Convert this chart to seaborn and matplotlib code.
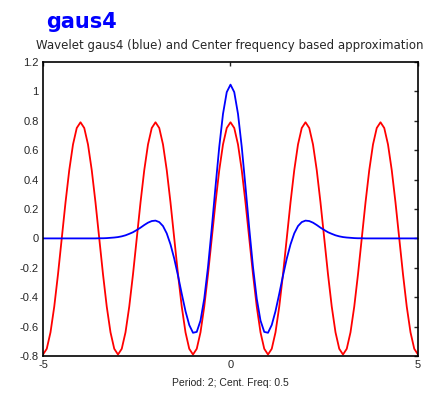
import matplotlib
matplotlib.use("Agg")
import matplotlib.pyplot as plt
import seaborn as sns
import pandas as pd

# sample positions (step 0.1, -5 .. 5)
x_pos = [0.0, 0.1, 0.2, 0.3, 0.4, 0.5, 0.6, 0.7, 0.8, 0.9,
         1.0, 1.1, 1.2, 1.3, 1.4, 1.5, 1.6, 1.7, 1.8, 1.9,
         2.0, 2.1, 2.2, 2.3, 2.4, 2.5, 2.6, 2.7, 2.8, 2.9,
         3.0, 3.1, 3.2, 3.3, 3.4, 3.5, 3.6, 3.7, 3.8, 3.9,
         4.0, 4.1, 4.2, 4.3, 4.4, 4.5, 4.6, 4.7, 4.8, 4.9, 5.0]

# blue wavelet, right half (the curve is symmetric about 0)
wavelet_half = [1.046, 0.995, 0.847, 0.622, 0.351, 0.068, -0.195, -0.410, -0.559, -0.636,
                -0.642, -0.589, -0.495, -0.377, -0.253, -0.138, -0.041, 0.034, 0.084, 0.111,
                0.121, 0.118, 0.107, 0.091, 0.073, 0.057, 0.042, 0.031, 0.021, 0.014,
                0.009, 0.006, 0.004, 0.002, 0.001, 0.001, 0.0, 0.0, 0.0, 0.0,
                0.0, 0.0, 0.0, 0.0, 0.0, 0.0, 0.0, 0.0, 0.0, 0.0, 0.0]

# red centre-frequency approximation, right half
approx_half = [0.790, 0.751, 0.639, 0.464, 0.244, 0.0, -0.244, -0.464, -0.639, -0.751,
               -0.790, -0.751, -0.639, -0.464, -0.244, 0.0, 0.244, 0.464, 0.639, 0.751,
               0.790, 0.751, 0.639, 0.464, 0.244, 0.0, -0.244, -0.464, -0.639, -0.751,
               -0.790, -0.751, -0.639, -0.464, -0.244, 0.0, 0.244, 0.464, 0.639, 0.751,
               0.790, 0.751, 0.639, 0.464, 0.244, 0.0, -0.244, -0.464, -0.639, -0.751, -0.790]

x_full = [-v for v in x_pos[:0:-1]] + x_pos
wavelet = wavelet_half[:0:-1] + wavelet_half
approx = approx_half[:0:-1] + approx_half

y_ticks = [-0.8, -0.6, -0.4, -0.2, 0, 0.2, 0.4, 0.6, 0.8, 1, 1.2]
y_tick_labels = ["-0.8", "-0.6", "-0.4", "-0.2", "0", "0.2", "0.4", "0.6", "0.8", "1", "1.2"]
x_ticks = [-5, 0, 5]

df = pd.DataFrame({"x": x_full, "wavelet": wavelet, "approx": approx})

sns.set_style("white")
plt.rcParams["font.family"] = ["Liberation Sans", "DejaVu Sans"]

fig = plt.figure(figsize=(4.31, 3.96), dpi=100)
ax = fig.add_axes([43 / 431, 1 - 356 / 396, 375 / 431, 294 / 396])

sns.lineplot(data=df, x="x", y="approx", color="#ff0000", linewidth=1.3, ax=ax)
sns.lineplot(data=df, x="x", y="wavelet", color="#0000ff", linewidth=1.3, ax=ax)

ax.set_xlim(-5, 5)
ax.set_ylim(-0.8, 1.2)
ax.set_xticks(x_ticks)
ax.set_xticklabels([str(t) for t in x_ticks], fontsize=8)
ax.set_yticks(y_ticks)
ax.set_yticklabels(y_tick_labels, fontsize=8)
ax.tick_params(direction="in", top=True, right=True, length=3, width=1, pad=3)
for s in ax.spines.values():
    s.set_color("black")
    s.set_linewidth(1.2)

ax.set_xlabel("Period: 2; Cent. Freq: 0.5", fontsize=7.5, labelpad=6)
ax.set_ylabel("")

fig.text(230 / 431, 1 - 45 / 396,
         "Wavelet gaus4 (blue) and Center frequency based approximation",
         fontsize=8.5, family="DejaVu Sans", ha="center", va="center")

fig.text(46 / 431, 1 - 22 / 396, "gaus4", color="#0000ff", fontsize=15,
         family="DejaVu Sans", fontweight="bold", va="center", ha="left")

fig.savefig("out.png", dpi=100)
